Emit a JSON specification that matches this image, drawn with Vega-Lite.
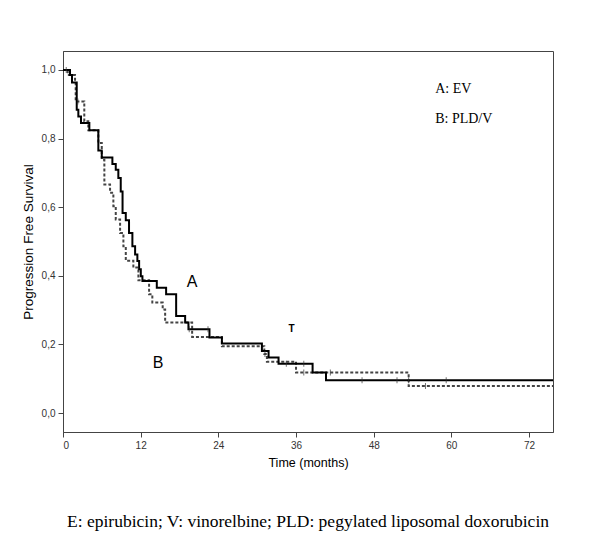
{
  "$schema": "https://vega.github.io/schema/vega-lite/v6.json",
  "autosize": {"type": "none"},
  "padding": {"left": 63, "top": 51, "right": 47, "bottom": 111},
  "width": 490,
  "height": 381,
  "background": "white",
  "config": {
    "view": {"stroke": "#444", "strokeWidth": 1},
    "font": "Liberation Sans"
  },
  "title": {
    "text": "E: epirubicin; V: vinorelbine; PLD: pegylated liposomal doxorubicin",
    "orient": "bottom",
    "anchor": "middle",
    "font": "Liberation Serif",
    "fontSize": 17.5,
    "fontWeight": "normal",
    "color": "black",
    "offset": 44
  },
  "datasets": {
    "curves": [
      {"group": "A", "month": 0, "surv": 1.0},
      {"group": "A", "month": 1.08, "surv": 0.985},
      {"group": "A", "month": 1.39, "surv": 0.963},
      {"group": "A", "month": 2.12, "surv": 0.884},
      {"group": "A", "month": 2.37, "surv": 0.864},
      {"group": "A", "month": 2.78, "surv": 0.845},
      {"group": "A", "month": 4.07, "surv": 0.824},
      {"group": "A", "month": 5.46, "surv": 0.765},
      {"group": "A", "month": 5.99, "surv": 0.745},
      {"group": "A", "month": 7.63, "surv": 0.726},
      {"group": "A", "month": 8.15, "surv": 0.709},
      {"group": "A", "month": 8.55, "surv": 0.685},
      {"group": "A", "month": 8.92, "surv": 0.646},
      {"group": "A", "month": 9.2, "surv": 0.583},
      {"group": "A", "month": 9.7, "surv": 0.562},
      {"group": "A", "month": 10.2, "surv": 0.525},
      {"group": "A", "month": 10.72, "surv": 0.486},
      {"group": "A", "month": 11.14, "surv": 0.462},
      {"group": "A", "month": 11.49, "surv": 0.443},
      {"group": "A", "month": 11.76, "surv": 0.419},
      {"group": "A", "month": 12.02, "surv": 0.399},
      {"group": "A", "month": 12.27, "surv": 0.385},
      {"group": "A", "month": 14.49, "surv": 0.365},
      {"group": "A", "month": 15.93, "surv": 0.346},
      {"group": "A", "month": 17.48, "surv": 0.283},
      {"group": "A", "month": 18.87, "surv": 0.264},
      {"group": "A", "month": 19.38, "surv": 0.244},
      {"group": "A", "month": 22.63, "surv": 0.22},
      {"group": "A", "month": 24.55, "surv": 0.203},
      {"group": "A", "month": 30.73, "surv": 0.181},
      {"group": "A", "month": 31.76, "surv": 0.162},
      {"group": "A", "month": 33.3, "surv": 0.144},
      {"group": "A", "month": 38.56, "surv": 0.118},
      {"group": "A", "month": 40.63, "surv": 0.096},
      {"group": "A", "month": 75.7, "surv": 0.096},
      {"group": "B", "month": 0, "surv": 1.0},
      {"group": "B", "month": 0.73, "surv": 0.985},
      {"group": "B", "month": 1.86, "surv": 0.966},
      {"group": "B", "month": 1.96, "surv": 0.908},
      {"group": "B", "month": 3.29, "surv": 0.85},
      {"group": "B", "month": 3.91, "surv": 0.824},
      {"group": "B", "month": 5.46, "surv": 0.787},
      {"group": "B", "month": 5.99, "surv": 0.738},
      {"group": "B", "month": 6.39, "surv": 0.666},
      {"group": "B", "month": 7.27, "surv": 0.642},
      {"group": "B", "month": 7.78, "surv": 0.603},
      {"group": "B", "month": 8.15, "surv": 0.564},
      {"group": "B", "month": 8.82, "surv": 0.525},
      {"group": "B", "month": 9.33, "surv": 0.486},
      {"group": "B", "month": 9.7, "surv": 0.444},
      {"group": "B", "month": 10.87, "surv": 0.424},
      {"group": "B", "month": 11.65, "surv": 0.387},
      {"group": "B", "month": 13.3, "surv": 0.346},
      {"group": "B", "month": 13.8, "surv": 0.322},
      {"group": "B", "month": 15.4, "surv": 0.302},
      {"group": "B", "month": 15.78, "surv": 0.264},
      {"group": "B", "month": 19.95, "surv": 0.222},
      {"group": "B", "month": 24.55, "surv": 0.195},
      {"group": "B", "month": 31.1, "surv": 0.172},
      {"group": "B", "month": 31.5, "surv": 0.15},
      {"group": "B", "month": 36.0, "surv": 0.118},
      {"group": "B", "month": 53.4, "surv": 0.079},
      {"group": "B", "month": 75.7, "surv": 0.079}
    ],
    "censor": [
      {"group": "A", "month": 0.5, "surv": 1.0},
      {"group": "A", "month": 19.5, "surv": 0.244},
      {"group": "A", "month": 22.4, "surv": 0.244},
      {"group": "A", "month": 34.5, "surv": 0.144},
      {"group": "A", "month": 37.2, "surv": 0.144},
      {"group": "A", "month": 46.2, "surv": 0.096},
      {"group": "A", "month": 51.6, "surv": 0.096},
      {"group": "A", "month": 53.4, "surv": 0.096},
      {"group": "A", "month": 59.2, "surv": 0.096},
      {"group": "B", "month": 2.3, "surv": 0.908},
      {"group": "B", "month": 31.2, "surv": 0.172},
      {"group": "B", "month": 37.2, "surv": 0.118},
      {"group": "B", "month": 41.3, "surv": 0.118},
      {"group": "B", "month": 56.0, "surv": 0.079}
    ],
    "notes": [
      {"label": "A: EV", "month": 57.5, "surv": 0.945, "kind": "legend"},
      {"label": "B: PLD/V", "month": 57.5, "surv": 0.857, "kind": "legend"},
      {"label": "A", "month": 19.95, "surv": 0.381, "kind": "curve"},
      {"label": "B", "month": 14.7, "surv": 0.145, "kind": "curve"},
      {"label": "T", "month": 35.3, "surv": 0.244, "kind": "tick"}
    ]
  },
  "encoding": {
    "x": {
      "field": "month",
      "type": "quantitative",
      "scale": {"domain": [0, 75.7], "nice": false, "zero": false},
      "axis": {
        "title": "Time (months)",
        "values": [0, 12, 24, 36, 48, 60, 72],
        "grid": false,
        "domainColor": "#444",
        "tickColor": "#444",
        "tickSize": 5,
        "labelFont": "Liberation Sans",
        "labelFontSize": 10,
        "labelColor": "#333",
        "labelPadding": 3,
        "titleFont": "Liberation Sans",
        "titleFontSize": 12.5,
        "titleFontWeight": "normal",
        "titleColor": "black",
        "titlePadding": 6
      }
    },
    "y": {
      "field": "surv",
      "type": "quantitative",
      "scale": {"domain": [-0.055, 1.055], "nice": false, "zero": false},
      "axis": {
        "title": "Progression Free Survival",
        "values": [0, 0.2, 0.4, 0.6, 0.8, 1.0],
        "labelExpr": "replace(format(datum.value, '.1f'), '.', ',')",
        "grid": false,
        "domainColor": "#444",
        "tickColor": "#444",
        "tickSize": 5,
        "labelFont": "Liberation Sans",
        "labelFontSize": 10,
        "labelColor": "#333",
        "labelPadding": 3,
        "titleFont": "Liberation Sans",
        "titleFontSize": 13.5,
        "titleFontWeight": "normal",
        "titleColor": "black",
        "titlePadding": 6
      }
    }
  },
  "layer": [
    {
      "data": {"name": "curves"},
      "transform": [{"filter": "datum.group === 'B'"}],
      "mark": {"type": "line", "interpolate": "step-after", "color": "#444", "strokeWidth": 2, "strokeDash": [3, 2], "clip": true}
    },
    {
      "data": {"name": "curves"},
      "transform": [{"filter": "datum.group === 'A'"}],
      "mark": {"type": "line", "interpolate": "step-after", "color": "black", "strokeWidth": 2, "clip": true}
    },
    {
      "data": {"name": "censor"},
      "mark": {"type": "tick", "orient": "vertical", "size": 6, "thickness": 1, "color": "#333"}
    },
    {
      "data": {"name": "notes"},
      "transform": [{"filter": "datum.kind === 'legend'"}],
      "mark": {"type": "text", "align": "left", "baseline": "middle", "font": "Liberation Serif", "fontSize": 14, "color": "black"},
      "encoding": {"text": {"field": "label"}}
    },
    {
      "data": {"name": "notes"},
      "transform": [{"filter": "datum.kind === 'curve'"}],
      "mark": {"type": "text", "align": "center", "baseline": "middle", "font": "Liberation Sans", "fontSize": 16, "color": "black"},
      "encoding": {"text": {"field": "label"}}
    },
    {
      "data": {"name": "notes"},
      "transform": [{"filter": "datum.kind === 'tick'"}],
      "mark": {"type": "text", "align": "center", "baseline": "middle", "font": "Liberation Sans", "fontSize": 10, "fontWeight": "bold", "color": "black"},
      "encoding": {"text": {"field": "label"}}
    }
  ]
}
